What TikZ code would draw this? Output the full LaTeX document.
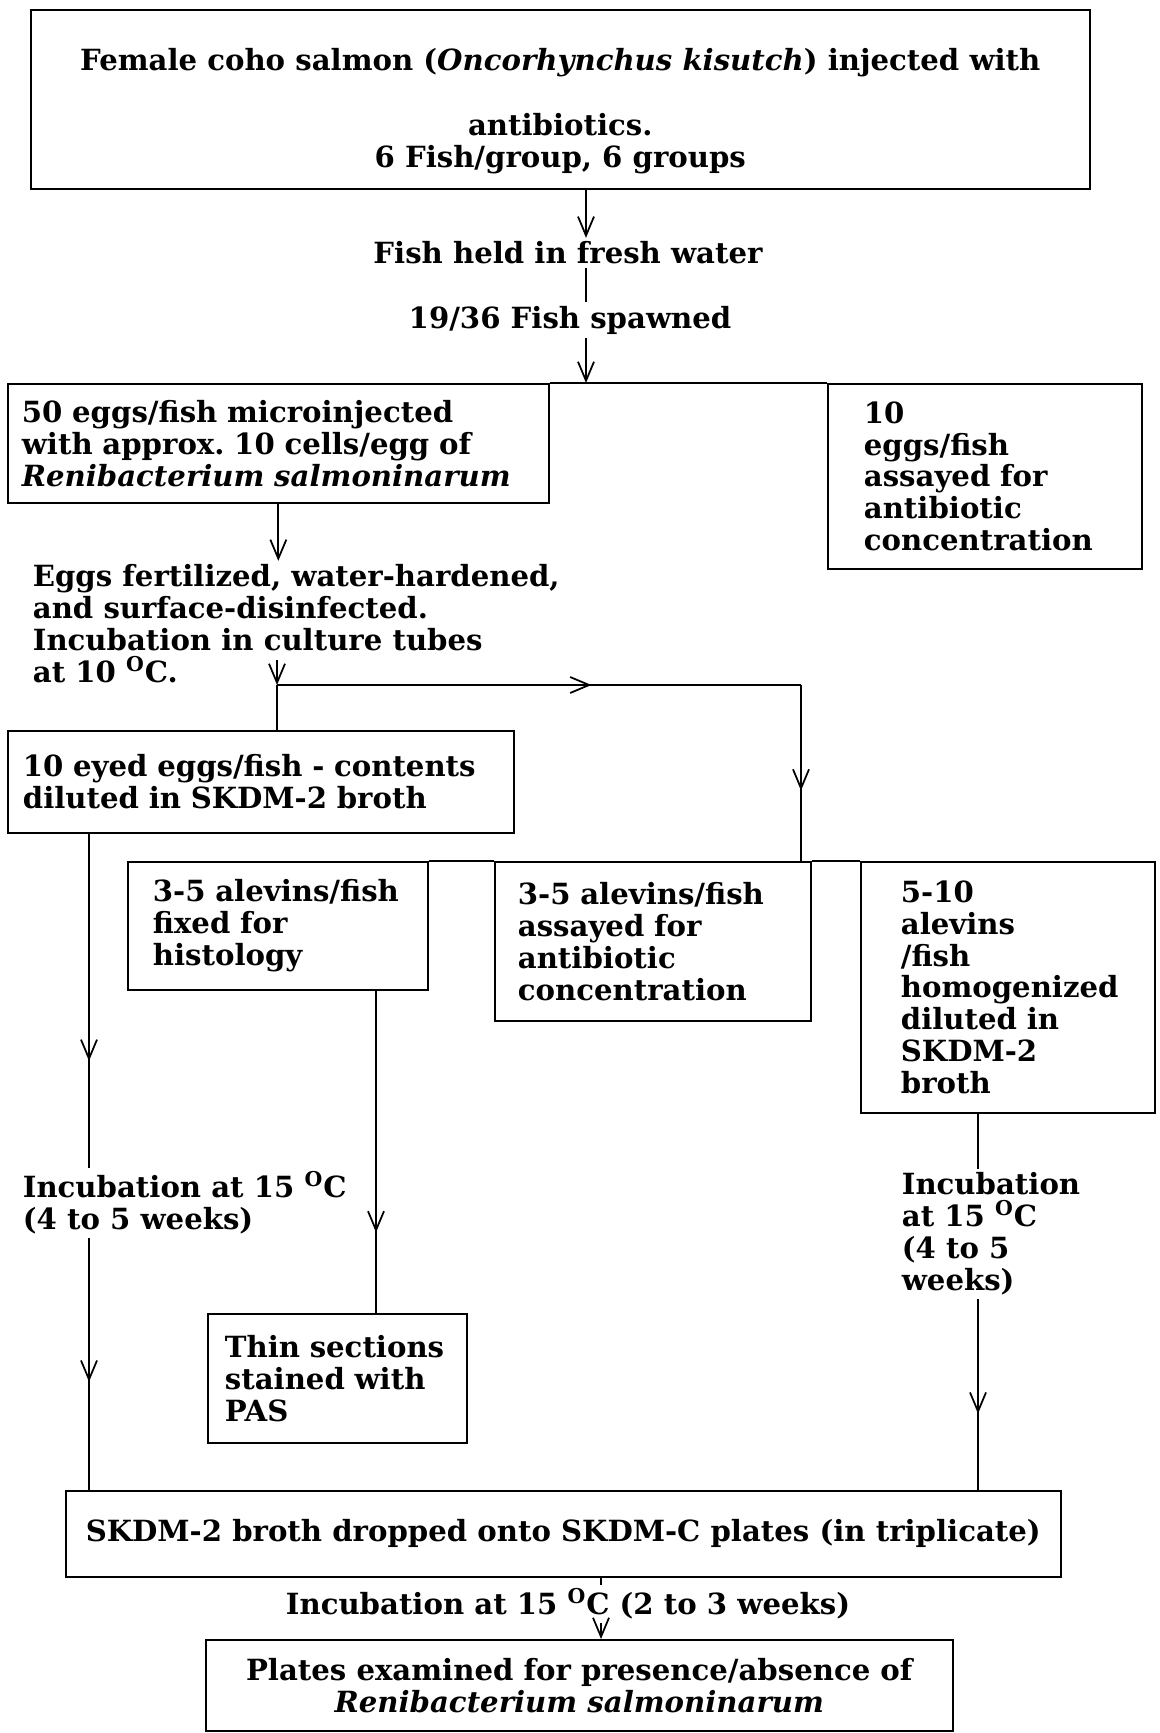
\documentclass[tikz,border=0pt]{standalone}
\usepackage{fontspec}
\setmainfont{DejaVu Serif}
\usetikzlibrary{arrows.meta,decorations.markings}
\tikzstyle{flowline} = [line width=1pt]
\tikzstyle{flowarrow} = [line width=1pt, -{Straight Barb[length=3.8mm,width=3.2mm]}]
\tikzset{midarrow/.style={line width=1pt, postaction={decorate}, decoration={markings, mark=at position #1 with {\arrow{Straight Barb[length=3.8mm,width=3.2mm]}}}}}
\tikzstyle{labbox} = [rectangle, draw, line width=1pt, anchor=north west, align=left, inner ysep=0pt, font=\bfseries\fontsize{16.6}{18.2}\selectfont]
\tikzstyle{labtext} = [inner sep=2pt, align=left, font=\bfseries\fontsize{16.6}{18.2}\selectfont]

\begin{document}
\begin{tikzpicture}[x=0.02cm, y=-0.02cm]
\useasboundingbox (0,0) rectangle (1159,1733);
% x positions of the vertical runs
\coordinate (spine) at (586,0);
\coordinate (leftrun) at (89,0);
\coordinate (fixrun) at (376,0);
\coordinate (homrun) at (978,0);
\coordinate (platerun) at (601,0);

% Adult fish
\node (female) [labbox, align=center, minimum width=21.18cm, minimum height=3.58cm] at (30,9) {\rule{0pt}{0.9cm}Female coho salmon (\textit{Oncorhynchus kisutch}) injected with\\[0.66cm] antibiotics.\\ 6 Fish/group, 6 groups};
\node (fresh) [labtext] at (568,253) {Fish held in fresh water};
\node (spawned) [labtext] at (570,320) {19/36 Fish spawned};

% Eggs
\node (eggs) [labbox, minimum width=10.82cm, minimum height=2.38cm, text width=10.26cm, inner xsep=0.28cm] at (7,383) {50 eggs/fish microinjected\\ with approx.\ 10 cells/egg of\\ \textit{Renibacterium salmoninarum}};
\node (assay) [labbox, minimum width=6.28cm, minimum height=3.7cm, text width=4.84cm, inner xsep=0.72cm] at (827,383) {10\\ eggs/fish\\ assayed for\\ antibiotic\\ concentration};
\node (fert) [labtext, anchor=west] at (29,624) {Eggs fertilized, water-hardened,\\ and surface-disinfected.\\ Incubation in culture tubes\\ at 10 \textsuperscript{O}C.};
\coordinate (fertout) at (277,660);
\coordinate (split) at (277,685);
\coordinate (turn) at (801,685);
\node (eyed) [labbox, minimum width=10.12cm, minimum height=2.04cm, text width=9.52cm, inner xsep=0.3cm] at (7,730) {10 eyed eggs/fish - contents\\ diluted in SKDM-2 broth};

% Alevins
\node (fixed) [labbox, minimum width=6cm, minimum height=2.56cm, text width=5cm, inner xsep=0.5cm] at (127,861) {3-5 alevins/fish\\ fixed for\\ histology};
\node (assayal) [labbox, minimum width=6.32cm, minimum height=3.18cm, text width=5.4cm, inner xsep=0.46cm] at (494,861) {3-5 alevins/fish\\ assayed for\\ antibiotic\\ concentration};
\node (homog) [labbox, minimum width=5.88cm, minimum height=5.02cm, text width=4.28cm, inner xsep=0.8cm] at (860,861) {5-10\\ alevins\\ /fish\\ homogenized\\ diluted in\\ SKDM-2\\ broth};
\node (inc1) [labtext, anchor=west] at (19,1203) {Incubation at 15 \textsuperscript{O}C\\ (4 to 5 weeks)};
\node (inc2) [labtext, anchor=west] at (898,1234) {Incubation\\ at 15 \textsuperscript{O}C\\ (4 to 5\\ weeks)};
\node (thin) [labbox, minimum width=5.18cm, minimum height=2.58cm, text width=4.5cm, inner xsep=0.34cm] at (207,1313) {Thin sections\\ stained with\\ PAS};

% Plates
\node (plates) [labbox, align=center, minimum width=19.9cm, minimum height=1.72cm] at (65,1490) {SKDM-2 broth dropped onto SKDM-C plates (in triplicate)};
\node (inc3) [labtext] at (568,1604) {Incubation at 15 \textsuperscript{O}C (2 to 3 weeks)};
\node (final) [labbox, align=center, minimum width=14.94cm, minimum height=1.82cm] at (205,1639) {Plates examined for presence/absence of\\ \textit{Renibacterium salmoninarum}};

% Connectors
\draw[flowarrow] (female.south -| spine) -- (fresh.north -| spine);
\draw[flowline] (fresh.south -| spine) -- (spawned.north -| spine);
\draw[flowarrow] (spawned.south -| spine) -- (spine |- eggs.north);
\draw[flowline] (eggs.north east) -- (assay.north west);
\draw[flowarrow] (eggs.south) -- (eggs.south |- fert.north);
\draw[flowarrow] (fertout) -- (split);
\draw[flowline] (split) -- (split |- eyed.north);
\draw[midarrow=0.6] (split) -- (turn);
\draw[midarrow=0.6] (turn) -- (turn |- assayal.north);
\draw[flowline] (fixed.north east) -- (assayal.north west);
\draw[flowline] (assayal.north east) -- (homog.north west);
\draw[midarrow=0.68] (leftrun |- eyed.south) -- (leftrun |- inc1.north);
\draw[midarrow=0.57] (leftrun |- inc1.south) -- (leftrun |- plates.north);
\draw[midarrow=0.75] (fixrun |- fixed.south) -- (fixrun |- thin.north);
\draw[flowline] (homrun |- homog.south) -- (homrun |- inc2.north);
\draw[midarrow=0.6] (homrun |- inc2.south) -- (homrun |- plates.north);
\draw[flowline] (plates.south -| platerun) -- (inc3.north -| platerun);
\draw[flowarrow] (inc3.south -| platerun) -- (final.north -| platerun);
\end{tikzpicture}
\end{document}
